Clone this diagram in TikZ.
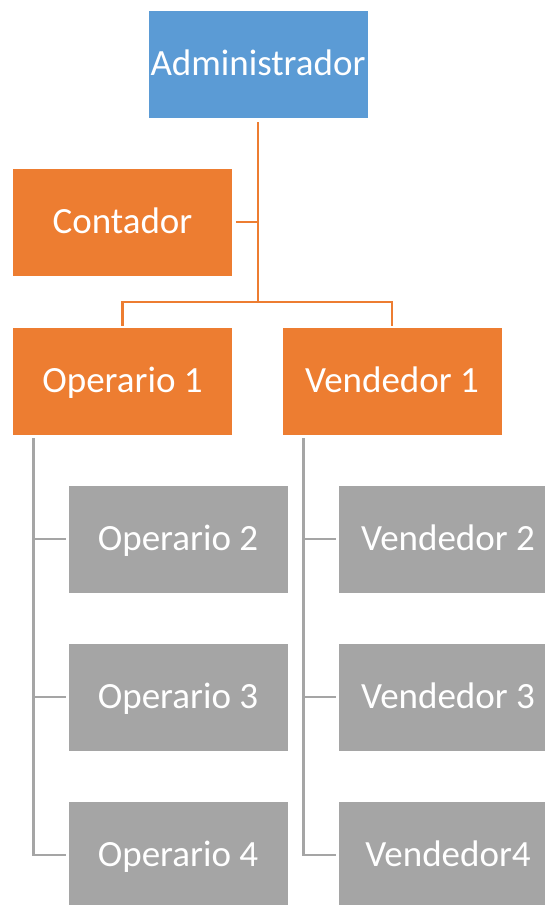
\documentclass[tikz,border=0pt]{standalone}
\usepackage{fontspec}
\setmainfont{Carlito}
\definecolor{cblue}{HTML}{5B9BD5}
\definecolor{corange}{HTML}{ED7D31}
\definecolor{cgray}{HTML}{A5A5A5}
\begin{document}
\begin{tikzpicture}[x=1pt,y=1pt,
  box/.style={rectangle,minimum width=220pt,minimum height=108pt,inner sep=0pt,
    text height=23.5pt,text depth=0pt,
    text=white,font=\fontsize{37}{40}\selectfont,draw=white,line width=0.6pt},
  bluebox/.style={box,fill=cblue},
  orbox/.style={box,fill=corange},
  grbox/.style={box,fill=cgray},
  oline/.style={draw=corange,line width=2.8pt},
  gline/.style={draw=cgray,line width=2.8pt}]
\useasboundingbox (0,0) rectangle (545,-905);
\clip (0,0) rectangle (545,-905);
\node[bluebox] (admin) at (258,-64) {Administrador};
\node[orbox] (cont) at (122.5,-222) {Contador};
\node[orbox] (op1) at (122.5,-381) {Operario 1};
\node[orbox] (ven1) at (392,-381) {Vendedor 1};
\node[grbox] (op2) at (178,-539) {Operario 2};
\node[grbox] (op3) at (178,-697) {Operario 3};
\node[grbox] (op4) at (178,-855) {Operario 4};
\node[grbox] (ven2) at (448,-539) {Vendedor 2};
\node[grbox] (ven3) at (448,-697) {Vendedor 3};
\node[grbox] (ven4) at (448,-855) {Vendedor4};
% orange connectors
\coordinate (j) at (258,-302);
\draw[oline] ([yshift=-4pt]admin.south) -- (j);
\draw[oline] ([xshift=3pt]cont.east) -- (cont.east -| j);
\draw[oline] ([yshift=1pt]op1.north) |- (j) -| ([yshift=1pt]ven1.north);
% gray connectors
\coordinate (ol) at ([xshift=21.5pt,yshift=-3pt]op1.south west);
\coordinate (vl) at ([xshift=21.5pt,yshift=-3pt]ven1.south west);
\draw[gline] (ol) |- ([xshift=-2pt]op4.west);
\draw[gline] (op2.west -| ol) -- ([xshift=-2pt]op2.west);
\draw[gline] (op3.west -| ol) -- ([xshift=-2pt]op3.west);
\draw[gline] (vl) |- ([xshift=-2pt]ven4.west);
\draw[gline] (ven2.west -| vl) -- ([xshift=-2pt]ven2.west);
\draw[gline] (ven3.west -| vl) -- ([xshift=-2pt]ven3.west);
\end{tikzpicture}
\end{document}
